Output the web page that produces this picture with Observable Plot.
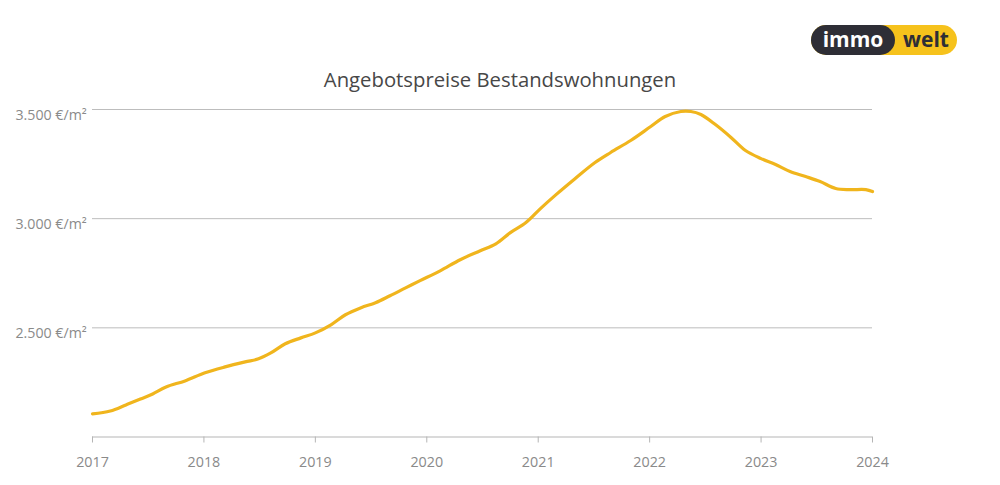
<!DOCTYPE html>
<html><head><meta charset="utf-8">
<script src="https://cdn.jsdelivr.net/npm/d3@7"></script>
<script src="https://cdn.jsdelivr.net/npm/@observablehq/plot@0.6"></script>
<style>
body{margin:0;background:#fff;font-family:"Open Sans",sans-serif;}
#wrap{position:relative;width:1000px;height:485px;}
#title{position:absolute;left:0;width:1000px;top:65px;text-align:center;font-size:20.3px;color:#474747;}
#logo{position:absolute;left:811px;top:25px;width:146px;height:30px;background:#f6c21c;border-radius:15px;}
#immo{position:absolute;left:0;top:0;width:84px;height:30px;background:#2e2e36;border-radius:15px;color:#fff;font-weight:700;font-size:21px;line-height:29px;text-align:center;}
#welt{position:absolute;left:86px;top:0;width:58px;height:30px;color:#2e2e36;font-weight:700;font-size:21px;line-height:29px;text-align:center;}
#chart{position:absolute;left:0;top:0;}
</style></head><body>
<div id="wrap"><div id="chart"></div><div id="title">Angebotspreise Bestandswohnungen</div>
<div id="logo"><div id="immo">immo</div><div id="welt">welt</div></div></div>
<script>
const years = [2017.00,2017.16,2017.30,2017.43,2017.54,2017.66,2017.83,2018.01,2018.19,2018.37,2018.49,2018.60,2018.73,2018.87,2019.00,2019.14,2019.27,2019.41,2019.54,2019.67,2019.81,2019.94,2020.12,2020.30,2020.48,2020.62,2020.75,2020.89,2021.02,2021.16,2021.33,2021.51,2021.65,2021.83,2022.01,2022.14,2022.28,2022.37,2022.46,2022.59,2022.73,2022.86,2023.00,2023.13,2023.26,2023.40,2023.53,2023.67,2023.80,2023.94,2024.00];
const prices = [2106,2119,2147,2174,2197,2229,2257,2294,2321,2344,2358,2385,2427,2454,2477,2514,2560,2592,2615,2647,2683,2716,2761,2812,2853,2885,2936,2982,3046,3110,3183,3257,3303,3358,3422,3468,3491,3491,3477,3431,3372,3312,3275,3248,3216,3193,3170,3138,3133,3133,3124];
const xTicks = [2017,2018,2019,2020,2021,2022,2023,2024];
const yTicks = [2500,3000,3500];
const yTickLabels = ["2.500 €/m²","3.000 €/m²","3.500 €/m²"];
const data = years.map((y,i)=>({year:y, price:prices[i]}));
const yt = yTicks.map((v,i)=>({v, label:yTickLabels[i]}));
const chart = Plot.plot({
  width:1000, height:485,
  marginTop:109, marginBottom:48.5, marginLeft:92, marginRight:128,
  style:{fontFamily:"Open Sans", background:"transparent"},
  x:{domain:[2017,2024], axis:null},
  y:{domain:[2000,3500], axis:null},
  marks:[
    Plot.ruleY(yTicks,{stroke:"#bdbdbd", strokeWidth:1}),
    Plot.ruleY([2000],{stroke:"#b5b5b5", strokeWidth:1.2}),
    Plot.text(yt,{y:"v", text:"label", frameAnchor:"left", dx:-77, dy:6, textAnchor:"start", fill:"#8a8a8a", fontSize:14.2}),
    Plot.axisX({ticks:xTicks, tickFormat:d=>String(d), tickSize:6, tickPadding:14, stroke:"#b5b5b5", color:"#8a8a8a", fontSize:14.3, label:null}),
    Plot.line(data,{x:"year", y:"price", stroke:"#f0b51d", strokeWidth:3.2, curve:"catmull-rom"})
  ]
});
document.getElementById("chart").appendChild(chart);
</script></body></html>
